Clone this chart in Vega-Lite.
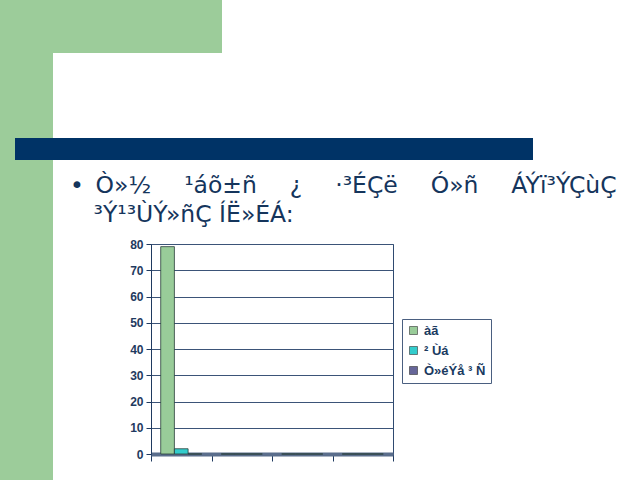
{
  "$schema": "https://vega.github.io/schema/vega-lite/v6.json",
  "background": "white",
  "padding": 0,
  "spacing": 0,
  "config": {
    "view": {"stroke": null},
    "concat": {"spacing": 0},
    "font": "DejaVu Sans"
  },
  "vconcat": [
    {
      "spacing": 0,
      "hconcat": [
        {
          "width": 53, "height": 138,
          "view": {"fill": "#9ccc9a", "stroke": null},
          "data": {"values": []},
          "mark": "point",
          "encoding": {}
        },
        {
          "width": 169, "height": 53,
          "view": {"fill": "#9ccc9a", "stroke": null},
          "data": {"values": []},
          "mark": "point",
          "encoding": {}
        }
      ]
    },
    {
      "spacing": 0,
      "hconcat": [
        {
          "width": 15, "height": 22,
          "view": {"fill": "#9ccc9a", "stroke": null},
          "data": {"values": []},
          "mark": "point",
          "encoding": {}
        },
        {
          "width": 518, "height": 22,
          "view": {"fill": "#003366", "stroke": null},
          "data": {"values": []},
          "mark": "point",
          "encoding": {}
        }
      ]
    },
    {
      "spacing": 16,
      "hconcat": [
        {
          "width": 53, "height": 320,
          "view": {"fill": "#9ccc9a", "stroke": null},
          "data": {"values": []},
          "mark": "point",
          "encoding": {}
        },
        {
          "spacing": 0,
          "vconcat": [
            {
              "width": 1, "height": 13,
              "data": {"values": []},
              "mark": "point",
              "encoding": {}
            },
            {
              "width": 242,
              "height": 210,
              "title": {
                "text": [
                  "•\u2002Ò»½\u2003\u2009\u2009¹áõ±ñ\u2003\u2009\u2009¿\u2003\u2009\u2009·³ÉÇë\u2003\u2009\u2009Ó»ñ\u2003\u2009\u2009ÁÝï³ÝÇùÇ",
                  "\u200b\u2003³Ý¹³ÙÝ»ñÇ ÍË»ÉÁ:"
                ],
                "anchor": "start",
                "frame": "group",
                "dx": -81,
                "font": "DejaVu Sans",
                "fontSize": 23.5,
                "fontWeight": "normal",
                "color": "#15355c",
                "lineHeight": 29,
                "offset": 12
              },
              "view": {"stroke": "#2f4a70"},
              "data": {
                "values": [
                  {"cat": "A", "series": "àã", "value": 79},
                  {"cat": "A", "series": "² Ùá", "value": 2},
                  {"cat": "A", "series": "Ò»éÝå ³ Ñ", "value": 0},
                  {"cat": "B", "series": "àã", "value": 0},
                  {"cat": "B", "series": "² Ùá", "value": 0},
                  {"cat": "B", "series": "Ò»éÝå ³ Ñ", "value": 0},
                  {"cat": "C", "series": "àã", "value": 0},
                  {"cat": "C", "series": "² Ùá", "value": 0},
                  {"cat": "C", "series": "Ò»éÝå ³ Ñ", "value": 0},
                  {"cat": "D", "series": "àã", "value": 0},
                  {"cat": "D", "series": "² Ùá", "value": 0},
                  {"cat": "D", "series": "Ò»éÝå ³ Ñ", "value": 0}
                ]
              },
              "mark": {"type": "bar", "stroke": "#2a3f3a", "strokeWidth": 0.8},
              "encoding": {
                "x": {
                  "field": "cat",
                  "type": "nominal",
                  "scale": {"paddingInner": 0, "paddingOuter": 0},
                  "axis": {
                    "labels": false,
                    "title": null,
                    "tickBand": "extent",
                    "tickSize": 7,
                    "tickColor": "#1f3a60",
                    "domainColor": "#5b6e8c",
                    "domainWidth": 4,
                    "grid": false
                  }
                },
                "xOffset": {
                  "field": "series",
                  "sort": ["àã", "² Ùá", "Ò»éÝå ³ Ñ"],
                  "scale": {"paddingInner": 0, "paddingOuter": 0.71}
                },
                "y": {
                  "field": "value",
                  "type": "quantitative",
                  "scale": {"domain": [0, 80]},
                  "axis": {
                    "values": [0, 10, 20, 30, 40, 50, 60, 70, 80],
                    "title": null,
                    "labelFont": "Liberation Sans",
                    "labelFontWeight": "bold",
                    "labelFontSize": 12,
                    "labelColor": "#1f3a60",
                    "labelPadding": 3,
                    "tickColor": "#1f3a60",
                    "tickSize": 5,
                    "domainColor": "#1f3a60",
                    "gridColor": "#3b5478",
                    "gridOpacity": 1
                  }
                },
                "color": {
                  "field": "series",
                  "type": "nominal",
                  "sort": ["àã", "² Ùá", "Ò»éÝå ³ Ñ"],
                  "scale": {"range": ["#99cc99", "#33cccc", "#666699"]},
                  "legend": {
                    "title": null,
                    "orient": "none",
                    "legendX": 402,
                    "legendY": 319,
                    "padding": 5,
                    "rowPadding": 6,
                    "strokeColor": "#4a5f80",
                    "fillColor": "white",
                    "symbolType": "square",
                    "symbolSize": 64,
                    "symbolStrokeColor": "#333333",
                    "symbolStrokeWidth": 0.6,
                    "symbolOpacity": 1,
                    "labelFont": "Liberation Sans",
                    "labelFontWeight": "bold",
                    "labelFontSize": 13,
                    "labelColor": "#1a3a60",
                    "labelLimit": 200
                  }
                }
              }
            }
          ]
        }
      ]
    }
  ]
}
